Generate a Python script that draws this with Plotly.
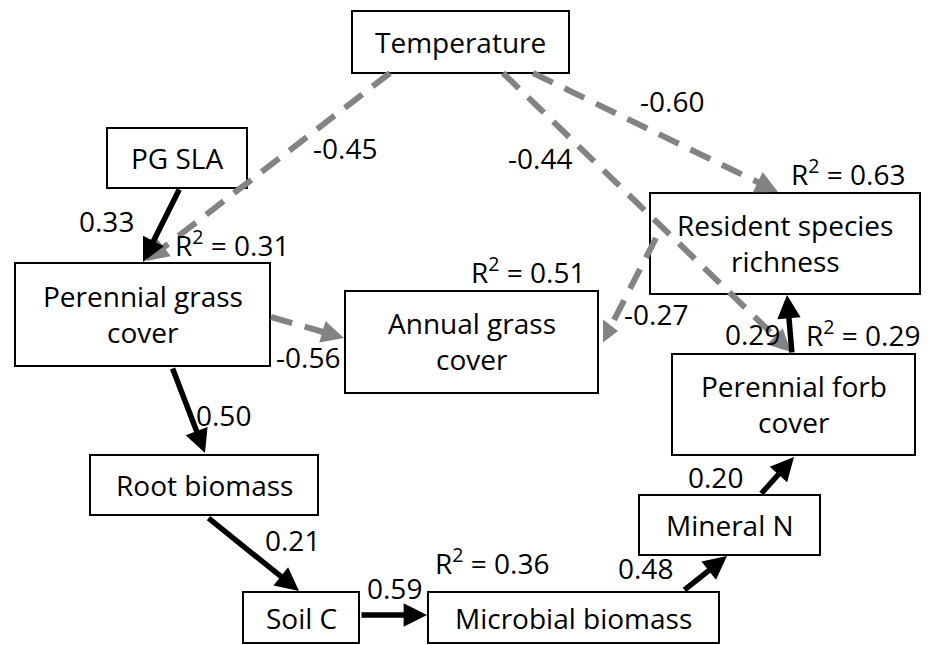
import math
import plotly.graph_objects as go

# ---------------- data ----------------
node_labels = ["Temperature", "PG SLA", "Perennial grass\ncover", "Annual grass\ncover",
               "Resident species\nrichness", "Perennial forb\ncover", "Root biomass",
               "Soil C", "Microbial biomass", "Mineral N"]

edge_from = ["Temperature", "Temperature", "Temperature", "PG SLA",
             "Perennial grass\ncover", "Resident species\nrichness", "Perennial grass\ncover",
             "Root biomass", "Soil C", "Microbial biomass", "Mineral N", "Perennial forb\ncover"]
edge_to = ["Perennial grass\ncover", "Perennial forb\ncover", "Resident species\nrichness",
           "Perennial grass\ncover", "Annual grass\ncover", "Annual grass\ncover", "Root biomass",
           "Soil C", "Microbial biomass", "Mineral N", "Perennial forb\ncover",
           "Resident species\nrichness"]
path_coefs = [-0.45, -0.44, -0.60, 0.33, -0.56, -0.27, 0.50, 0.21, 0.59, 0.48, 0.20, 0.29]

r2_nodes = ["Perennial grass\ncover", "Annual grass\ncover", "Resident species\nrichness",
            "Perennial forb\ncover", "Microbial biomass"]
r2_values = [0.31, 0.51, 0.63, 0.29, 0.36]

# ---------------- layout geometry (pixels) ----------------
W, H = 931, 645
box_geom = {
    "Temperature": (352, 11, 569, 73),
    "PG SLA": (107, 128, 247, 188),
    "Perennial grass\ncover": (15, 263, 270, 366),
    "Annual grass\ncover": (345, 291, 598, 393),
    "Resident species\nrichness": (650, 193, 920, 294),
    "Perennial forb\ncover": (672, 354, 915, 455),
    "Root biomass": (90, 455, 318, 515),
    "Soil C": (243, 592, 359, 643),
    "Microbial biomass": (428, 592, 719, 643),
    "Mineral N": (639, 495, 820, 555),
}
# tail, tip, label position for each edge (same order as path_coefs)
edge_geom = [
    ((390, 73), (146, 261), (345, 148)),
    ((503, 73), (791, 352), (540, 158)),
    ((533, 73), (778, 192), (672, 101)),
    ((180, 188), (143, 262), (106, 221)),
    ((271, 317), (344, 338), (308, 357)),
    ((656, 238), (613, 322), (656, 314)),
    ((172, 367), (205, 453), (223, 415)),
    ((207, 517), (299, 591), (292, 540)),
    ((360, 615), (427, 615), (394, 588)),
    ((683, 591), (727, 556), (645, 568)),
    ((760, 495), (794, 457), (715, 477)),
    ((792, 354), (787, 295), (752, 334)),
]
r2_pos = [(232, 243), (528, 270), (848, 172), (863, 333), (492, 561)]

FONT = "Open Sans"
FS = 28
GRAY = "#838383"

fig = go.Figure()
shapes = []
annotations = []

# boxes
for name in node_labels:
    x0, y0, x1, y1 = box_geom[name]
    shapes.append(dict(type="rect", xref="x", yref="y", x0=x0, y0=y0, x1=x1, y1=y1,
                       line=dict(color="black", width=2), fillcolor="rgba(0,0,0,0)"))
    lines = name.split("\n")
    cy = (y0 + y1) / 2
    cx = (x0 + x1) / 2
    if len(lines) == 1:
        annotations.append(dict(x=cx, y=cy, text=lines[0], showarrow=False,
                                font=dict(family=FONT, size=FS, color="black")))
    else:
        annotations.append(dict(x=cx, y=cy - 19, text=lines[0], showarrow=False,
                                font=dict(family=FONT, size=FS, color="black")))
        annotations.append(dict(x=cx, y=cy + 17, text=lines[1], showarrow=False,
                                font=dict(family=FONT, size=FS, color="black")))

# edges
for i, coef in enumerate(path_coefs):
    (tx, ty), (hx, hy), (lx, ly) = edge_geom[i]
    negative = coef < 0
    if negative:
        dx, dy = hx - tx, hy - ty
        L = math.hypot(dx, dy)
        ux, uy = dx / L, dy / L
        if edge_from[i] == "Resident species\nrichness":
            shapes.append(dict(type="line", xref="x", yref="y", x0=tx, y0=ty, x1=hx, y1=hy,
                               line=dict(color=GRAY, width=6, dash="22px,13px")))
            fig.add_trace(go.Scatter(x=[608], y=[331], mode="markers",
                                     marker=dict(symbol="triangle-right", size=20, color=GRAY,
                                                 line=dict(width=0)),
                                     hoverinfo="skip", showlegend=False))
        else:
            sx, sy = hx - 18 * ux, hy - 18 * uy
            shapes.append(dict(type="line", xref="x", yref="y", x0=tx, y0=ty, x1=sx, y1=sy,
                               line=dict(color=GRAY, width=6, dash="22px,13px")))
            annotations.append(dict(x=hx, y=hy, ax=hx - 24 * ux, ay=hy - 24 * uy,
                                    xref="x", yref="y", axref="x", ayref="y", text="",
                                    showarrow=True, arrowhead=2, arrowsize=0.9,
                                    arrowwidth=5, arrowcolor=GRAY, standoff=0))
    else:
        annotations.append(dict(x=hx, y=hy, ax=tx, ay=ty, xref="x", yref="y",
                                axref="x", ayref="y", text="", showarrow=True,
                                arrowhead=2, arrowsize=0.85, arrowwidth=5.5,
                                arrowcolor="black", standoff=0))
    annotations.append(dict(x=lx, y=ly, text=f"{coef:.2f}", showarrow=False,
                            font=dict(family=FONT, size=FS, color="black")))

# R² labels
for name, val, (px, py) in zip(r2_nodes, r2_values, r2_pos):
    annotations.append(dict(x=px, y=py, text=f"R<sup>2</sup> = {val:.2f}", showarrow=False,
                            font=dict(family=FONT, size=FS, color="black")))

fig.update_layout(
    width=W, height=H, margin=dict(l=0, r=0, t=0, b=0),
    paper_bgcolor="white", plot_bgcolor="white",
    xaxis=dict(range=[0, W], visible=False, fixedrange=True),
    yaxis=dict(range=[H, 0], visible=False, fixedrange=True),
    shapes=shapes, annotations=annotations, showlegend=False,
)
fig.write_html("out.html", config={"displayModeBar": False},
               post_script="document.body.style.margin='0px';document.body.style.overflow='hidden';")
